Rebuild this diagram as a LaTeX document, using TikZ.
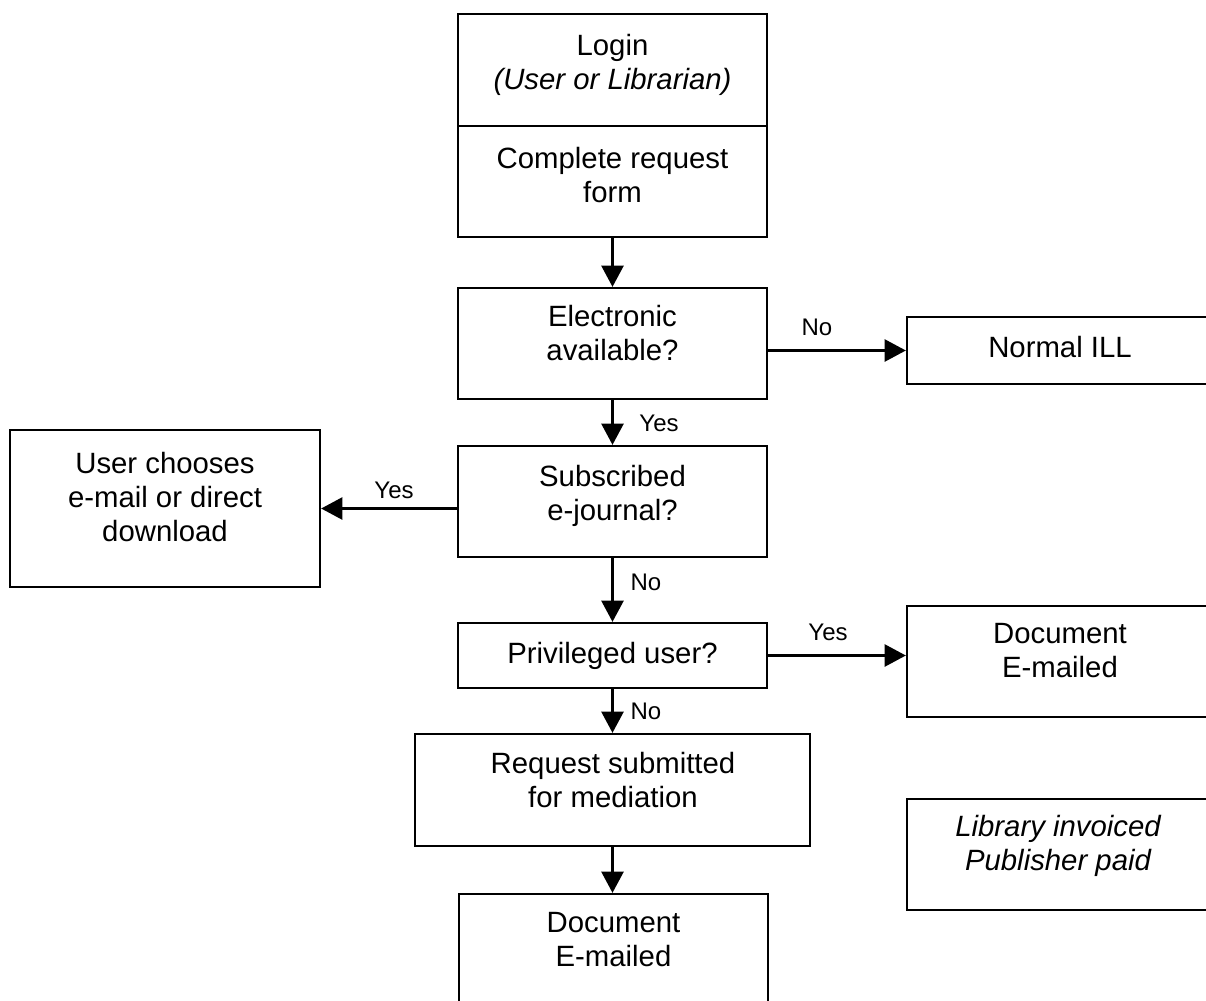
\documentclass[tikz,border=0pt]{standalone}
\usepackage{fontspec}
\setmainfont{Liberation Sans}
\usetikzlibrary{arrows.meta,fit}
\tikzset{
  box/.style={draw, line width=1.7pt, inner sep=0pt, rectangle},
  txt/.style={font=\fontsize{22}{25.5}\selectfont, align=center, inner sep=0pt, anchor=north},
  txti/.style={txt, font=\fontsize{22}{25.5}\selectfont\itshape},
  lbl/.style={font=\fontsize{18}{21}\selectfont, inner sep=0pt},
  arr/.style={line width=2.2pt, -{Triangle[length=16pt,width=16.5pt]}},
}
\begin{document}
\begin{tikzpicture}[x=0.75pt,y=-0.75pt]
\useasboundingbox (0,0) rectangle (1206,1000);
\clip (0,0) rectangle (1206,1000);

% boxes
\node[box, fit={(458,14) (767,126)}] (login) {};
\node[box, fit={(458,126) (767,237)}] (complete) {};
\node[box, fit={(458,288) (767,399)}] (elec) {};
\node[box, fit={(907,317) (1215,384)}] (ill) {};
\node[box, fit={(458,446) (767,557)}] (subs) {};
\node[box, fit={(10,430) (320,587)}] (user) {};
\node[box, fit={(458,623) (767,688)}] (priv) {};
\node[box, fit={(907,606) (1215,717)}] (docR) {};
\node[box, fit={(415,734) (810,846)}] (req) {};
\node[box, fit={(907,799) (1215,910)}] (lib) {};
\node[box, fit={(459,894) (768,1050)}] (docB) {};

% texts
\node[txt] (t-login) at (612.5,33.5) {Login\\\textit{(User or Librarian)}};
\node[txt] (t-complete) at (612.5,146.5) {Complete request\\form};
\node[txt] (t-elec) at (612.5,305) {Electronic\\available?};
\node[txt] (t-ill) at (1060,335.5) {Normal ILL};
\node[txt] (t-subs) at (612.5,465) {Subscribed\\e-journal?};
\node[txt] (t-user) at (165,451.5) {User chooses\\e-mail or direct\\download};
\node[txt] (t-priv) at (612.5,641.5) {Privileged user?};
\node[txt] (t-docR) at (1060,623.5) {Document\\E-mailed};
\node[txt] (t-req) at (613,751.5) {Request submitted\\for mediation};
\node[txti] (t-lib) at (1058,814.5) {Library invoiced\\Publisher paid};
\node[txt] (t-docB) at (613.5,912.5) {Document\\E-mailed};

% connectors
\draw[arr] (complete.south) -- (elec.north);
\draw[arr] (elec.east |- ill.west) -- (ill.west);
\draw[arr] (elec.south) -- (subs.north);
\draw[arr] (subs.west |- user.east) -- (user.east);
\draw[arr] (subs.south) -- (priv.north);
\draw[arr] (priv.east) -- (priv.east -| docR.west);
\draw[arr] (priv.south) -- (priv.south |- req.north);
\draw[arr] (req.south) -- (req.south |- docB.north);

% labels
\node[lbl] (l-no1) at (817,327) {No};
\node[lbl] (l-yes1) at (659,423) {Yes};
\node[lbl] (l-yes2) at (394,490) {Yes};
\node[lbl] (l-no2) at (646,582.5) {No};
\node[lbl] (l-yes3) at (828,632) {Yes};
\node[lbl] (l-no3) at (646,711) {No};
\end{tikzpicture}
\end{document}
